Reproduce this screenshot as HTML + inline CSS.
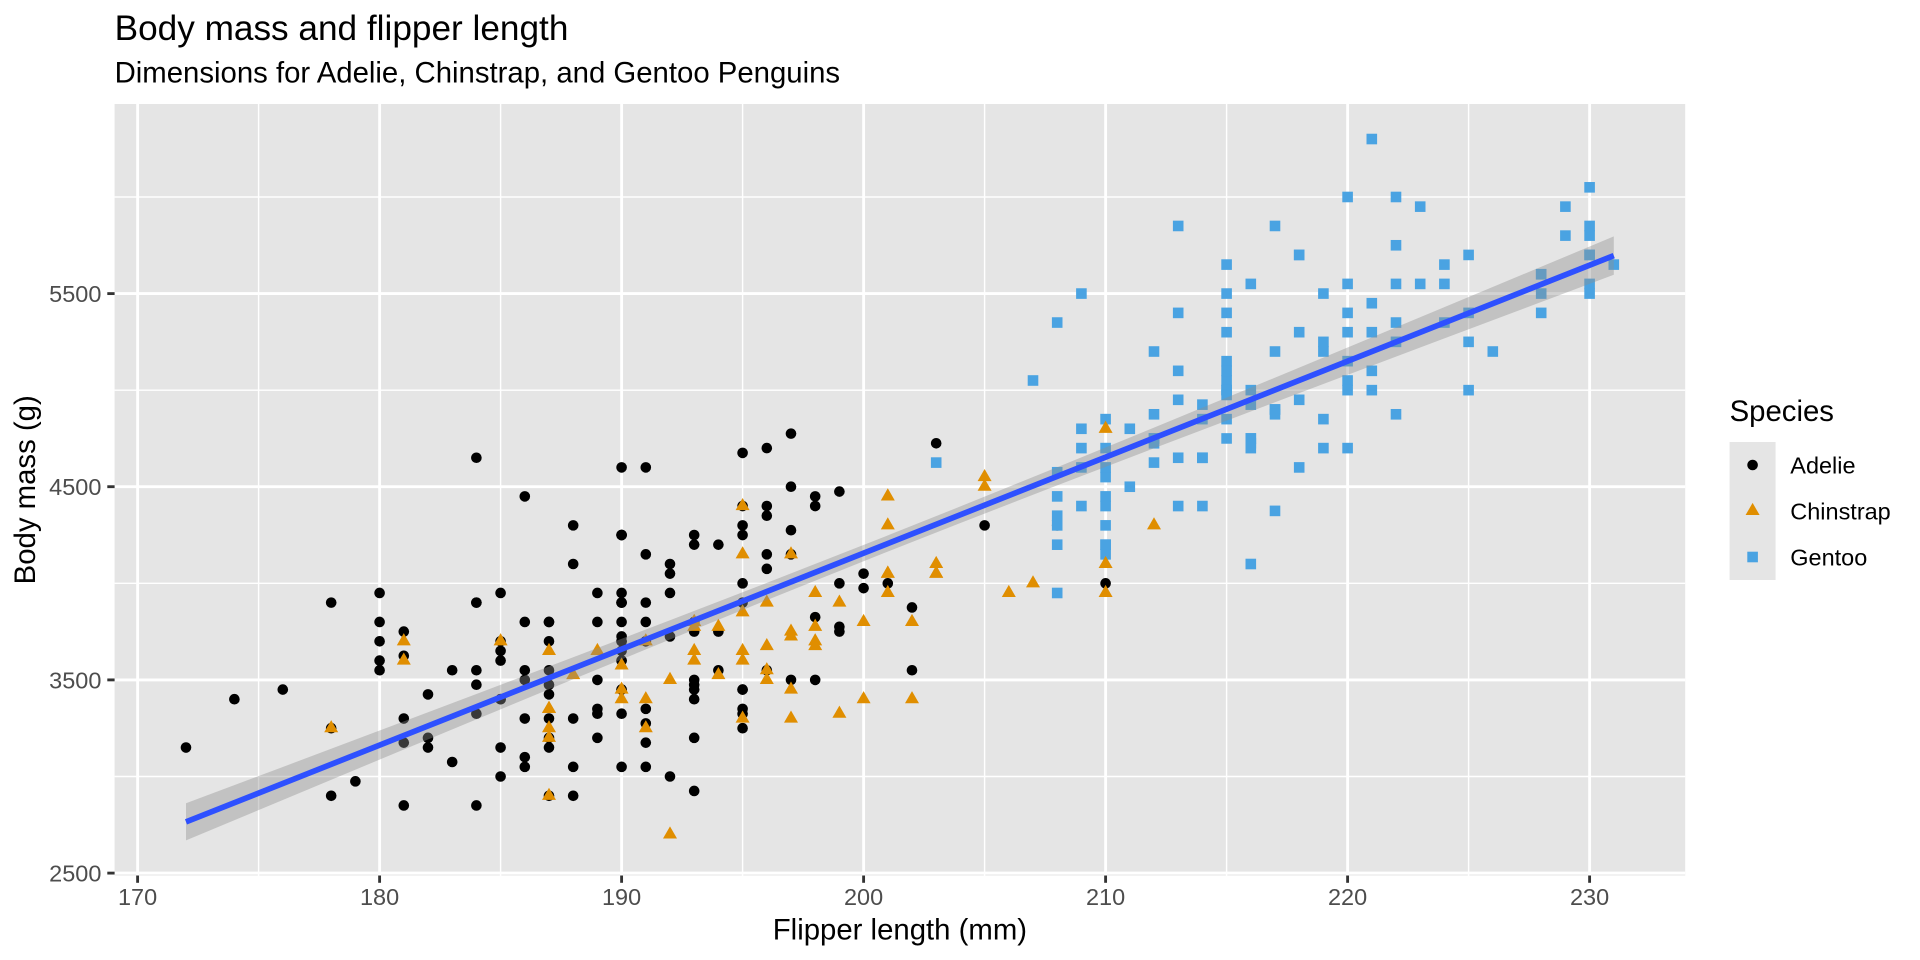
<!DOCTYPE html>
<html><head><meta charset="utf-8"><style>
html,body{margin:0;padding:0;background:#fff;}
svg{display:block;}
text{font-family:"Liberation Sans",Arial,Helvetica,sans-serif;}
</style></head><body>
<svg width="1920" height="960" viewBox="0 0 1920 960" xmlns="http://www.w3.org/2000/svg">
<defs>
<g id="a"><g transform="scale(0.0413223,-5.17679)"><circle r="5.3" fill="#000000"/></g></g>
<g id="g"><g transform="scale(0.0413223,-5.17679)"><rect x="-5.3" y="-5.3" width="10.6" height="10.6" fill="#4AA3E2"/></g></g>
<g id="c"><g transform="scale(0.0413223,-5.17679)"><polygon points="0,-8.1 7,4.05 -7,4.05" fill="#E08E00"/></g></g>
</defs>
<rect width="1920" height="960" fill="#ffffff"/>
<rect x="114.6" y="104" width="1570.6" height="771.5" fill="#E5E5E5"/>
<!-- minor grid -->
<g stroke="#ffffff" stroke-width="1.42">
<line x1="258.6" y1="104" x2="258.6" y2="875.5"/>
<line x1="500.6" y1="104" x2="500.6" y2="875.5"/>
<line x1="742.6" y1="104" x2="742.6" y2="875.5"/>
<line x1="984.6" y1="104" x2="984.6" y2="875.5"/>
<line x1="1226.6" y1="104" x2="1226.6" y2="875.5"/>
<line x1="1468.6" y1="104" x2="1468.6" y2="875.5"/>
<line x1="114.6" y1="776.5" x2="1685.2" y2="776.5"/>
<line x1="114.6" y1="583.3" x2="1685.2" y2="583.3"/>
<line x1="114.6" y1="390.2" x2="1685.2" y2="390.2"/>
<line x1="114.6" y1="197.0" x2="1685.2" y2="197.0"/>
</g>
<!-- major grid -->
<g stroke="#ffffff" stroke-width="2.85">
<line x1="137.6" y1="104" x2="137.6" y2="875.5"/>
<line x1="379.6" y1="104" x2="379.6" y2="875.5"/>
<line x1="621.6" y1="104" x2="621.6" y2="875.5"/>
<line x1="863.6" y1="104" x2="863.6" y2="875.5"/>
<line x1="1105.6" y1="104" x2="1105.6" y2="875.5"/>
<line x1="1347.6" y1="104" x2="1347.6" y2="875.5"/>
<line x1="1589.6" y1="104" x2="1589.6" y2="875.5"/>
<line x1="114.6" y1="873.1" x2="1685.2" y2="873.1"/>
<line x1="114.6" y1="679.9" x2="1685.2" y2="679.9"/>
<line x1="114.6" y1="486.7" x2="1685.2" y2="486.7"/>
<line x1="114.6" y1="293.6" x2="1685.2" y2="293.6"/>
</g>
<g transform="matrix(24.2,0,0,-0.19317,-3976.4,1356)">
<!-- Adelie -->
<use href="#a" x="181" y="3750"/><use href="#a" x="186" y="3800"/><use href="#a" x="195" y="3250"/><use href="#a" x="193" y="3450"/><use href="#a" x="190" y="3650"/>
<use href="#a" x="181" y="3625"/><use href="#a" x="195" y="4675"/><use href="#a" x="193" y="3475"/><use href="#a" x="190" y="4250"/><use href="#a" x="186" y="3300"/>
<use href="#a" x="180" y="3700"/><use href="#a" x="182" y="3200"/><use href="#a" x="191" y="3800"/><use href="#a" x="198" y="4400"/><use href="#a" x="185" y="3700"/>
<use href="#a" x="195" y="3450"/><use href="#a" x="197" y="4500"/><use href="#a" x="184" y="3325"/><use href="#a" x="194" y="4200"/><use href="#a" x="174" y="3400"/>
<use href="#a" x="180" y="3600"/><use href="#a" x="189" y="3800"/><use href="#a" x="185" y="3950"/><use href="#a" x="180" y="3800"/><use href="#a" x="187" y="3800"/>
<use href="#a" x="183" y="3550"/><use href="#a" x="187" y="3200"/><use href="#a" x="172" y="3150"/><use href="#a" x="180" y="3950"/><use href="#a" x="178" y="3250"/>
<use href="#a" x="178" y="3900"/><use href="#a" x="188" y="3300"/><use href="#a" x="184" y="3900"/><use href="#a" x="195" y="3325"/><use href="#a" x="196" y="4150"/>
<use href="#a" x="190" y="3950"/><use href="#a" x="180" y="3550"/><use href="#a" x="181" y="3300"/><use href="#a" x="184" y="4650"/><use href="#a" x="182" y="3150"/>
<use href="#a" x="195" y="3900"/><use href="#a" x="186" y="3100"/><use href="#a" x="196" y="4400"/><use href="#a" x="185" y="3000"/><use href="#a" x="190" y="4600"/>
<use href="#a" x="182" y="3425"/><use href="#a" x="179" y="2975"/><use href="#a" x="190" y="3450"/><use href="#a" x="191" y="4150"/><use href="#a" x="186" y="3500"/>
<use href="#a" x="188" y="4300"/><use href="#a" x="190" y="3450"/><use href="#a" x="200" y="4050"/><use href="#a" x="187" y="2900"/><use href="#a" x="191" y="3700"/>
<use href="#a" x="186" y="3550"/><use href="#a" x="193" y="3800"/><use href="#a" x="181" y="2850"/><use href="#a" x="194" y="3750"/><use href="#a" x="185" y="3150"/>
<use href="#a" x="195" y="4400"/><use href="#a" x="185" y="3600"/><use href="#a" x="192" y="4050"/><use href="#a" x="184" y="2850"/><use href="#a" x="192" y="3950"/>
<use href="#a" x="195" y="3350"/><use href="#a" x="188" y="4100"/><use href="#a" x="190" y="3050"/><use href="#a" x="198" y="4450"/><use href="#a" x="190" y="3600"/>
<use href="#a" x="190" y="3900"/><use href="#a" x="196" y="3550"/><use href="#a" x="197" y="4150"/><use href="#a" x="190" y="3700"/><use href="#a" x="195" y="4250"/>
<use href="#a" x="191" y="3700"/><use href="#a" x="184" y="3900"/><use href="#a" x="187" y="3550"/><use href="#a" x="195" y="4000"/><use href="#a" x="189" y="3200"/>
<use href="#a" x="196" y="4700"/><use href="#a" x="187" y="3800"/><use href="#a" x="193" y="4200"/><use href="#a" x="191" y="3350"/><use href="#a" x="194" y="3550"/>
<use href="#a" x="190" y="3800"/><use href="#a" x="189" y="3500"/><use href="#a" x="189" y="3950"/><use href="#a" x="190" y="3600"/><use href="#a" x="202" y="3550"/>
<use href="#a" x="205" y="4300"/><use href="#a" x="185" y="3400"/><use href="#a" x="186" y="4450"/><use href="#a" x="187" y="3300"/><use href="#a" x="208" y="4300"/>
<use href="#a" x="190" y="3700"/><use href="#a" x="196" y="4350"/><use href="#a" x="178" y="2900"/><use href="#a" x="192" y="4100"/><use href="#a" x="192" y="3725"/>
<use href="#a" x="203" y="4725"/><use href="#a" x="183" y="3075"/><use href="#a" x="190" y="4250"/><use href="#a" x="193" y="2925"/><use href="#a" x="184" y="3550"/>
<use href="#a" x="199" y="3750"/><use href="#a" x="190" y="3900"/><use href="#a" x="181" y="3175"/><use href="#a" x="197" y="4775"/><use href="#a" x="198" y="3825"/>
<use href="#a" x="191" y="4600"/><use href="#a" x="193" y="3200"/><use href="#a" x="197" y="4275"/><use href="#a" x="191" y="3900"/><use href="#a" x="196" y="4075"/>
<use href="#a" x="188" y="2900"/><use href="#a" x="199" y="3775"/><use href="#a" x="189" y="3350"/><use href="#a" x="189" y="3325"/><use href="#a" x="187" y="3150"/>
<use href="#a" x="198" y="3500"/><use href="#a" x="176" y="3450"/><use href="#a" x="202" y="3875"/><use href="#a" x="186" y="3050"/><use href="#a" x="199" y="4000"/>
<use href="#a" x="191" y="3275"/><use href="#a" x="195" y="4300"/><use href="#a" x="191" y="3050"/><use href="#a" x="210" y="4000"/><use href="#a" x="190" y="3325"/>
<use href="#a" x="197" y="3500"/><use href="#a" x="193" y="3500"/><use href="#a" x="199" y="4475"/><use href="#a" x="187" y="3425"/><use href="#a" x="190" y="3900"/>
<use href="#a" x="191" y="3175"/><use href="#a" x="200" y="3975"/><use href="#a" x="185" y="3400"/><use href="#a" x="193" y="4250"/><use href="#a" x="193" y="3400"/>
<use href="#a" x="187" y="3475"/><use href="#a" x="188" y="3050"/><use href="#a" x="190" y="3725"/><use href="#a" x="192" y="3000"/><use href="#a" x="185" y="3650"/>
<use href="#a" x="190" y="4250"/><use href="#a" x="184" y="3475"/><use href="#a" x="195" y="3450"/><use href="#a" x="193" y="3750"/><use href="#a" x="187" y="3700"/>
<use href="#a" x="201" y="4000"/>
<!-- Gentoo -->
<use href="#g" x="211" y="4500"/><use href="#g" x="230" y="5700"/><use href="#g" x="210" y="4450"/><use href="#g" x="218" y="5700"/><use href="#g" x="215" y="5400"/>
<use href="#g" x="210" y="4550"/><use href="#g" x="211" y="4800"/><use href="#g" x="219" y="5200"/><use href="#g" x="209" y="4400"/><use href="#g" x="215" y="5150"/>
<use href="#g" x="214" y="4650"/><use href="#g" x="216" y="5550"/><use href="#g" x="214" y="4650"/><use href="#g" x="213" y="5850"/><use href="#g" x="210" y="4200"/>
<use href="#g" x="217" y="5850"/><use href="#g" x="210" y="4150"/><use href="#g" x="221" y="6300"/><use href="#g" x="209" y="4800"/><use href="#g" x="222" y="5350"/>
<use href="#g" x="218" y="5700"/><use href="#g" x="215" y="5000"/><use href="#g" x="213" y="4400"/><use href="#g" x="215" y="5050"/><use href="#g" x="215" y="5000"/>
<use href="#g" x="215" y="5100"/><use href="#g" x="216" y="4100"/><use href="#g" x="215" y="5650"/><use href="#g" x="210" y="4600"/><use href="#g" x="220" y="5550"/>
<use href="#g" x="222" y="5250"/><use href="#g" x="209" y="4700"/><use href="#g" x="207" y="5050"/><use href="#g" x="230" y="6050"/><use href="#g" x="220" y="5150"/>
<use href="#g" x="220" y="5400"/><use href="#g" x="213" y="4950"/><use href="#g" x="219" y="5250"/><use href="#g" x="208" y="4350"/><use href="#g" x="208" y="5350"/>
<use href="#g" x="208" y="3950"/><use href="#g" x="225" y="5700"/><use href="#g" x="210" y="4300"/><use href="#g" x="216" y="4750"/><use href="#g" x="222" y="5550"/>
<use href="#g" x="217" y="4900"/><use href="#g" x="210" y="4200"/><use href="#g" x="225" y="5400"/><use href="#g" x="213" y="5100"/><use href="#g" x="215" y="5300"/>
<use href="#g" x="210" y="4850"/><use href="#g" x="220" y="5300"/><use href="#g" x="210" y="4400"/><use href="#g" x="225" y="5000"/><use href="#g" x="217" y="4900"/>
<use href="#g" x="220" y="5050"/><use href="#g" x="208" y="4300"/><use href="#g" x="220" y="5000"/><use href="#g" x="208" y="4450"/><use href="#g" x="224" y="5550"/>
<use href="#g" x="208" y="4200"/><use href="#g" x="221" y="5300"/><use href="#g" x="214" y="4400"/><use href="#g" x="231" y="5650"/><use href="#g" x="219" y="4700"/>
<use href="#g" x="230" y="5700"/><use href="#g" x="214" y="4650"/><use href="#g" x="229" y="5800"/><use href="#g" x="220" y="4700"/><use href="#g" x="223" y="5550"/>
<use href="#g" x="216" y="4750"/><use href="#g" x="221" y="5000"/><use href="#g" x="221" y="5100"/><use href="#g" x="217" y="5200"/><use href="#g" x="216" y="4700"/>
<use href="#g" x="230" y="5800"/><use href="#g" x="209" y="4600"/><use href="#g" x="220" y="6000"/><use href="#g" x="215" y="4750"/><use href="#g" x="223" y="5950"/>
<use href="#g" x="212" y="4625"/><use href="#g" x="221" y="5450"/><use href="#g" x="212" y="4725"/><use href="#g" x="224" y="5350"/><use href="#g" x="212" y="4750"/>
<use href="#g" x="228" y="5600"/><use href="#g" x="218" y="4600"/><use href="#g" x="218" y="5300"/><use href="#g" x="212" y="4875"/><use href="#g" x="230" y="5550"/>
<use href="#g" x="218" y="4950"/><use href="#g" x="228" y="5400"/><use href="#g" x="212" y="4750"/><use href="#g" x="224" y="5650"/><use href="#g" x="214" y="4850"/>
<use href="#g" x="226" y="5200"/><use href="#g" x="216" y="4925"/><use href="#g" x="222" y="4875"/><use href="#g" x="203" y="4625"/><use href="#g" x="225" y="5250"/>
<use href="#g" x="219" y="4850"/><use href="#g" x="228" y="5600"/><use href="#g" x="215" y="4975"/><use href="#g" x="228" y="5500"/><use href="#g" x="216" y="4725"/>
<use href="#g" x="215" y="5500"/><use href="#g" x="210" y="4700"/><use href="#g" x="219" y="5500"/><use href="#g" x="208" y="4575"/><use href="#g" x="209" y="5500"/>
<use href="#g" x="216" y="5000"/><use href="#g" x="229" y="5950"/><use href="#g" x="213" y="4650"/><use href="#g" x="230" y="5500"/><use href="#g" x="217" y="4375"/>
<use href="#g" x="230" y="5850"/><use href="#g" x="217" y="4875"/><use href="#g" x="222" y="6000"/><use href="#g" x="214" y="4925"/><use href="#g" x="215" y="4850"/>
<use href="#g" x="222" y="5750"/><use href="#g" x="212" y="5200"/><use href="#g" x="213" y="5400"/>
<!-- Chinstrap -->
<use href="#c" x="192" y="3500"/><use href="#c" x="196" y="3900"/><use href="#c" x="193" y="3650"/><use href="#c" x="188" y="3525"/><use href="#c" x="197" y="3725"/>
<use href="#c" x="198" y="3950"/><use href="#c" x="178" y="3250"/><use href="#c" x="197" y="3750"/><use href="#c" x="195" y="4150"/><use href="#c" x="198" y="3700"/>
<use href="#c" x="193" y="3800"/><use href="#c" x="194" y="3775"/><use href="#c" x="185" y="3700"/><use href="#c" x="201" y="4050"/><use href="#c" x="190" y="3575"/>
<use href="#c" x="201" y="4050"/><use href="#c" x="197" y="3300"/><use href="#c" x="181" y="3700"/><use href="#c" x="190" y="3450"/><use href="#c" x="195" y="4400"/>
<use href="#c" x="181" y="3600"/><use href="#c" x="191" y="3400"/><use href="#c" x="187" y="2900"/><use href="#c" x="193" y="3800"/><use href="#c" x="195" y="3300"/>
<use href="#c" x="197" y="4150"/><use href="#c" x="200" y="3400"/><use href="#c" x="200" y="3800"/><use href="#c" x="191" y="3700"/><use href="#c" x="205" y="4550"/>
<use href="#c" x="187" y="3200"/><use href="#c" x="201" y="4300"/><use href="#c" x="187" y="3350"/><use href="#c" x="203" y="4100"/><use href="#c" x="195" y="3600"/>
<use href="#c" x="199" y="3900"/><use href="#c" x="195" y="3850"/><use href="#c" x="210" y="4800"/><use href="#c" x="192" y="2700"/><use href="#c" x="205" y="4500"/>
<use href="#c" x="210" y="3950"/><use href="#c" x="187" y="3650"/><use href="#c" x="196" y="3550"/><use href="#c" x="196" y="3500"/><use href="#c" x="196" y="3675"/>
<use href="#c" x="201" y="4450"/><use href="#c" x="190" y="3400"/><use href="#c" x="212" y="4300"/><use href="#c" x="187" y="3250"/><use href="#c" x="198" y="3675"/>
<use href="#c" x="199" y="3325"/><use href="#c" x="201" y="3950"/><use href="#c" x="193" y="3600"/><use href="#c" x="203" y="4050"/><use href="#c" x="187" y="3350"/>
<use href="#c" x="197" y="3450"/><use href="#c" x="191" y="3250"/><use href="#c" x="203" y="4050"/><use href="#c" x="202" y="3800"/><use href="#c" x="194" y="3525"/>
<use href="#c" x="206" y="3950"/><use href="#c" x="189" y="3650"/><use href="#c" x="195" y="3650"/><use href="#c" x="207" y="4000"/><use href="#c" x="202" y="3400"/>
<use href="#c" x="193" y="3775"/><use href="#c" x="210" y="4100"/><use href="#c" x="198" y="3775"/>
<!-- confidence ribbon -->
<polygon fill="#8F8F8F" fill-opacity="0.4" points="172,2861.17 176,3049.33 180,3237.90 184,3427.05 188,3617.12 192,3808.56 196,4002.06 200.915,4243.77 204,4398.05 208,4600.84 212,4806.03 216,5012.91 220,5220.86 224,5429.54 228,5638.71 231,5795.81 231,5597.47 228,5456.45 224,5268.12 220,5079.32 216,4889.79 212,4699.17 208,4506.88 204,4312.17 200.915,4159.89 196,3913.20 192,3709.20 188,3503.16 184,3295.73 180,3087.40 176,2878.49 172,2669.15"/>
</g>
<!-- regression line -->
<line x1="186.0" y1="821.9" x2="1613.8" y2="255.6" stroke="#2E50FF" stroke-width="5.7"/>
<!-- axis ticks -->
<g stroke="#333333" stroke-width="2.85">
<line x1="137.6" y1="875.5" x2="137.6" y2="882.8"/>
<line x1="379.6" y1="875.5" x2="379.6" y2="882.8"/>
<line x1="621.6" y1="875.5" x2="621.6" y2="882.8"/>
<line x1="863.6" y1="875.5" x2="863.6" y2="882.8"/>
<line x1="1105.6" y1="875.5" x2="1105.6" y2="882.8"/>
<line x1="1347.6" y1="875.5" x2="1347.6" y2="882.8"/>
<line x1="1589.6" y1="875.5" x2="1589.6" y2="882.8"/>
<line x1="107.3" y1="873.1" x2="114.6" y2="873.1"/>
<line x1="107.3" y1="679.9" x2="114.6" y2="679.9"/>
<line x1="107.3" y1="486.7" x2="114.6" y2="486.7"/>
<line x1="107.3" y1="293.6" x2="114.6" y2="293.6"/>
</g>
<!-- tick labels -->
<g font-size="23.47" fill="#4D4D4D" text-anchor="middle">
<text x="137.6" y="905">170</text>
<text x="379.6" y="905">180</text>
<text x="621.6" y="905">190</text>
<text x="863.6" y="905">200</text>
<text x="1105.6" y="905">210</text>
<text x="1347.6" y="905">220</text>
<text x="1589.6" y="905">230</text>
</g>
<g font-size="23.47" fill="#4D4D4D" text-anchor="end">
<text x="101.4" y="881.5">2500</text>
<text x="101.4" y="688.3">3500</text>
<text x="101.4" y="495.1">4500</text>
<text x="101.4" y="302.0">5500</text>
</g>
<!-- axis titles -->
<text x="899.9" y="939.5" font-size="29.33" fill="#000" text-anchor="middle">Flipper length (mm)</text>
<text transform="translate(35,489.8) rotate(-90)" font-size="29.33" fill="#000" text-anchor="middle">Body mass (g)</text>
<!-- titles -->
<text x="114.6" y="40" font-size="35.2" fill="#000">Body mass and flipper length</text>
<text x="114.6" y="82.5" font-size="29.33" fill="#000">Dimensions for Adelie, Chinstrap, and Gentoo Penguins</text>
<!-- legend -->
<text x="1729.6" y="421" font-size="29.33" fill="#000">Species</text>
<rect x="1729.6" y="442" width="46" height="138" fill="#E5E5E5"/>
<circle cx="1752.6" cy="465" r="5.3" fill="#000000"/>
<polygon points="1752.6,502.9 1759.6,515.05 1745.6,515.05" fill="#E08E00"/>
<rect x="1747.3" y="551.7" width="10.6" height="10.6" fill="#4AA3E2"/>
<g font-size="23.47" fill="#000">
<text x="1790.3" y="473.4">Adelie</text>
<text x="1790.3" y="519.4">Chinstrap</text>
<text x="1790.3" y="565.4">Gentoo</text>
</g>
</svg>
</body></html>
